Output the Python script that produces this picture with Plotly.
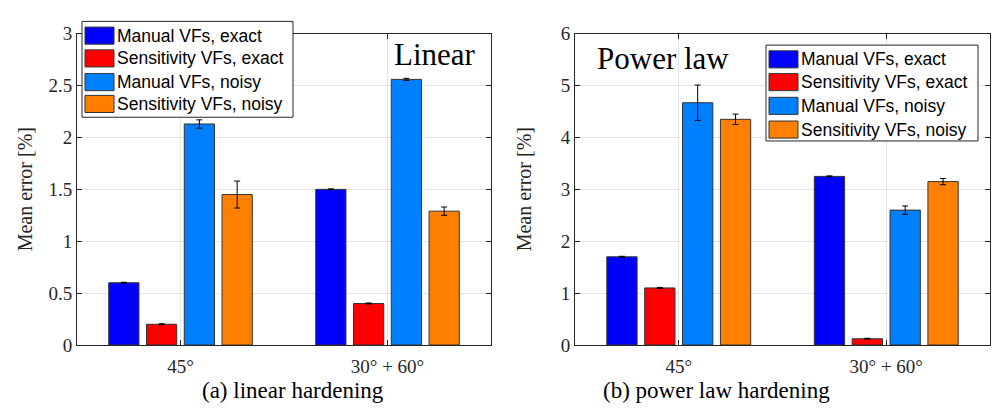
import plotly.graph_objects as go

W, H = 993, 412

categories = ["45°", "30° + 60°"]
series_names = ["Manual VFs, exact", "Sensitivity VFs, exact", "Manual VFs, noisy", "Sensitivity VFs, noisy"]
series_colors = ["#0000ff", "#ff0000", "#0080ff", "#ff8000"]

# linear hardening
lin_manual_exact = [0.60, 1.50]
lin_sens_exact = [0.20, 0.40]
lin_manual_noisy = [2.13, 2.56]
lin_sens_noisy = [1.45, 1.29]
lin_err_manual_exact = [0.005, 0.005]
lin_err_sens_exact = [0.005, 0.005]
lin_err_manual_noisy = [0.04, 0.01]
lin_err_sens_noisy = [0.13, 0.04]

# power law hardening
pow_manual_exact = [1.70, 3.25]
pow_sens_exact = [1.10, 0.12]
pow_manual_noisy = [4.67, 2.60]
pow_sens_noisy = [4.35, 3.15]
pow_err_manual_exact = [0.01, 0.01]
pow_err_sens_exact = [0.01, 0.01]
pow_err_manual_noisy = [0.34, 0.08]
pow_err_sens_noisy = [0.10, 0.06]

lin_ticks = [0, 0.5, 1, 1.5, 2, 2.5, 3]
lin_ticktext = ["0", "0.5", "1", "1.5", "2", "2.5", "3"]
pow_ticks = [0, 1, 2, 3, 4, 5, 6]

SERIF = "Liberation Serif"
SANS = "Liberation Sans, Arial"

def px(x):
    return x / W

def py(y):
    return 1 - y / H

fig = go.Figure()
xpos = [1, 2]

lin_vals = [lin_manual_exact, lin_sens_exact, lin_manual_noisy, lin_sens_noisy]
lin_errs = [lin_err_manual_exact, lin_err_sens_exact, lin_err_manual_noisy, lin_err_sens_noisy]
pow_vals = [pow_manual_exact, pow_sens_exact, pow_manual_noisy, pow_sens_noisy]
pow_errs = [pow_err_manual_exact, pow_err_sens_exact, pow_err_manual_noisy, pow_err_sens_noisy]

for vals, errs, xa, ya in [(lin_vals, lin_errs, "x", "y"), (pow_vals, pow_errs, "x2", "y2")]:
    for name, color, v, e in zip(series_names, series_colors, vals, errs):
        fig.add_trace(go.Bar(
            x=xpos, y=v, name=name, xaxis=xa, yaxis=ya, showlegend=False,
            marker=dict(color=color, line=dict(color="#333333", width=1)),
            error_y=dict(type="data", array=e, color="black", thickness=1, width=3),
        ))

axis_common = dict(
    showline=True, linecolor="#262626", linewidth=1, mirror="ticks",
    ticks="inside", ticklen=5, tickcolor="#262626",
    showgrid=True, gridcolor="#e5e5e5", gridwidth=1, zeroline=False,
    tickfont=dict(family=SERIF, size=19, color="#262626"),
)

fig.update_layout(
    width=W, height=H, margin=dict(l=0, r=0, t=0, b=0),
    paper_bgcolor="white", plot_bgcolor="white",
    barmode="group", bargap=0.27, bargroupgap=0.2,
    xaxis=dict(domain=[px(77), px(491)], range=[0.5, 2.5], tickvals=xpos, ticktext=categories, anchor="y",
               ticklabelstandoff=4, **axis_common),
    yaxis=dict(domain=[py(353), py(25)], range=[0, 3], tickvals=lin_ticks, ticktext=lin_ticktext, anchor="x", **axis_common),
    xaxis2=dict(domain=[px(575), px(990)], range=[0.5, 2.5], tickvals=xpos, ticktext=categories, anchor="y2",
                ticklabelstandoff=4, **axis_common),
    yaxis2=dict(domain=[py(353), py(25)], range=[0, 6], tickvals=pow_ticks, anchor="x2", **axis_common),
)

annotations = []
shapes = []

# y-axis titles
for xc in [25, 524]:
    annotations.append(dict(x=px(xc), y=py(189), xref="paper", yref="paper", text="Mean error [%]",
                            textangle=-90, showarrow=False, font=dict(family=SERIF, size=20, color="#262626"),
                            xanchor="center", yanchor="middle"))
# captions
annotations.append(dict(x=px(293), y=py(401), xref="paper", yref="paper", text="(a) linear hardening",
                        showarrow=False, font=dict(family=SERIF, size=23, color="black"), xanchor="center", yanchor="middle"))
annotations.append(dict(x=px(716), y=py(401), xref="paper", yref="paper", text="(b) power law hardening",
                        showarrow=False, font=dict(family=SERIF, size=23, color="black"), xanchor="center", yanchor="middle"))
# in-plot labels
annotations.append(dict(x=px(435), y=py(47), xref="paper", yref="paper", text="Linear",
                        showarrow=False, font=dict(family=SERIF, size=31, color="black"), xanchor="center", yanchor="middle"))
annotations.append(dict(x=px(663), y=py(51), xref="paper", yref="paper", text="Power law",
                        showarrow=False, font=dict(family=SERIF, size=31, color="black"), xanchor="center", yanchor="middle"))

# custom legends
def legend(x0, y0, x1, y1, sx0, sx1, tx, rows):
    shapes.append(dict(type="rect", xref="paper", yref="paper", x0=px(x0), x1=px(x1), y0=py(y1), y1=py(y0),
                       line=dict(color="#262626", width=1), fillcolor="white", layer="above"))
    for yc, name, color in zip(rows, series_names, series_colors):
        shapes.append(dict(type="rect", xref="paper", yref="paper", x0=px(sx0), x1=px(sx1),
                           y0=py(yc + 9), y1=py(yc - 9), line=dict(color="#333333", width=1),
                           fillcolor=color, layer="above"))
        annotations.append(dict(x=px(tx), y=py(yc), xref="paper", yref="paper", text=name, showarrow=False,
                                font=dict(family=SANS, size=17.5, color="black"), xanchor="left", yanchor="middle"))

legend(82, 12, 293, 113, 85, 114, 115, [27, 51, 76, 99])
legend(766, 37, 978, 138, 769, 798, 799, [52, 76, 101, 126])

fig.update_layout(annotations=annotations, shapes=shapes)
fig.write_html("out.html")
